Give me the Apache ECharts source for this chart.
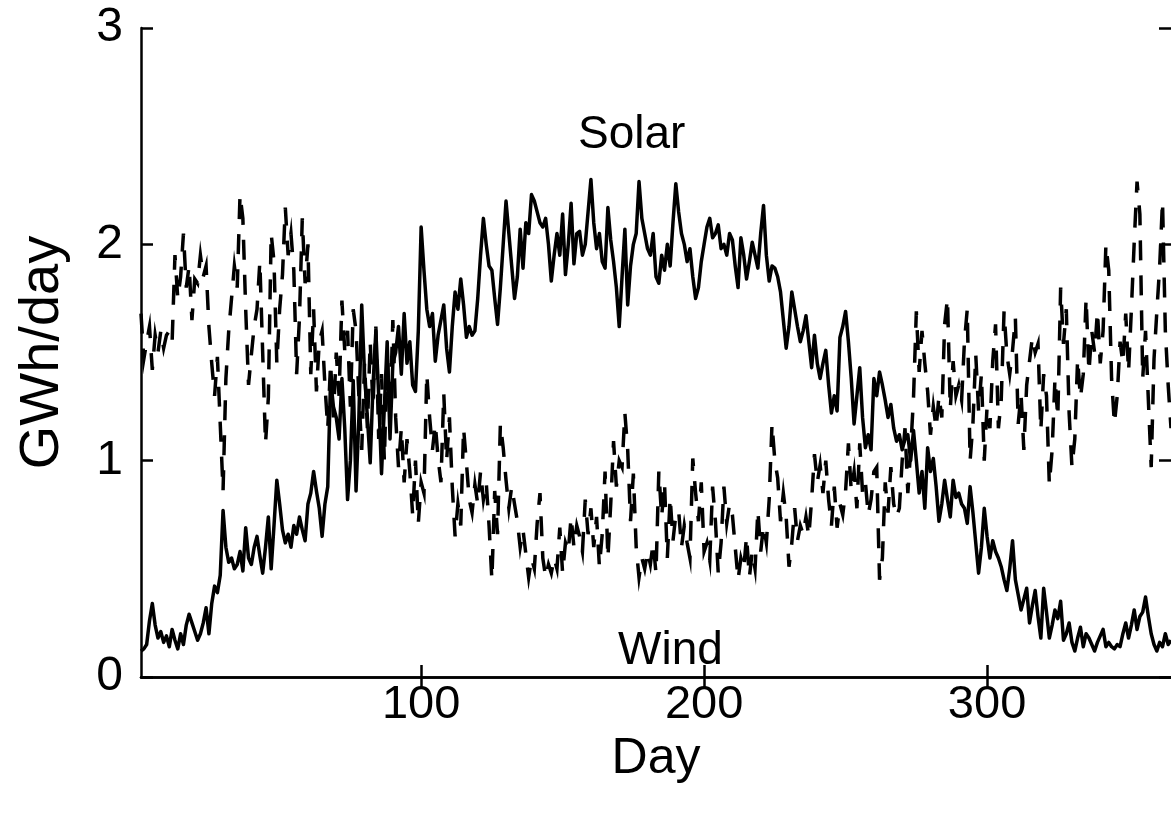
<!DOCTYPE html>
<html>
<head>
<meta charset="utf-8">
<script src="https://cdn.jsdelivr.net/npm/echarts@6/dist/echarts.min.js"></script>
<style>
html,body{margin:0;padding:0;background:#fff;overflow:hidden;}
#chart{width:1171px;height:815px;}
</style>
</head>
<body>
<div id="chart"></div>
<script>
// Daily energy (GWh/day), day 1..365
const solar = [
0.12,0.13,0.15,0.26,0.34,0.24,0.18,0.21,0.16,0.19,
0.14,0.22,0.17,0.13,0.20,0.15,0.24,0.29,0.25,0.21,
0.17,0.20,0.25,0.32,0.20,0.34,0.42,0.39,0.47,0.77,
0.60,0.53,0.55,0.50,0.52,0.58,0.49,0.69,0.55,0.52,
0.60,0.65,0.56,0.48,0.60,0.74,0.50,0.70,0.91,0.80,
0.68,0.62,0.66,0.60,0.70,0.66,0.74,0.68,0.63,0.80,
0.85,0.95,0.86,0.78,0.65,0.80,0.88,1.38,1.25,1.20,
1.10,1.38,1.15,0.82,1.00,1.37,0.86,1.20,1.72,1.40,
1.20,0.99,1.35,1.60,1.30,0.94,1.25,1.55,1.10,1.45,
1.50,1.62,1.40,1.68,1.45,1.55,1.35,1.32,1.60,2.08,
1.88,1.70,1.62,1.68,1.46,1.58,1.65,1.72,1.52,1.41,
1.62,1.78,1.70,1.84,1.72,1.57,1.62,1.58,1.60,1.75,
1.95,2.12,2.00,1.90,1.88,1.75,1.63,1.80,2.00,2.20,
2.05,1.90,1.75,1.85,2.07,1.89,2.10,2.05,2.23,2.20,
2.15,2.10,2.08,2.12,2.00,1.83,1.95,2.05,1.95,2.14,
1.86,2.00,2.19,1.91,2.05,2.06,1.95,2.00,2.15,2.30,
2.10,1.98,2.05,1.92,1.89,2.17,2.02,1.92,1.80,1.62,
1.85,2.07,1.72,1.90,2.00,2.05,2.29,2.12,2.05,1.98,
1.95,2.05,1.85,1.82,1.95,1.88,2.00,1.90,2.10,2.28,
2.15,2.05,2.00,1.92,1.98,1.85,1.75,1.80,1.92,2.00,
2.08,2.12,2.03,2.05,2.09,1.98,2.00,1.95,2.05,2.02,
1.90,1.80,2.03,1.95,1.84,1.92,2.01,1.95,1.89,2.05,
2.18,1.95,1.83,1.90,1.89,1.85,1.78,1.65,1.52,1.62,
1.78,1.70,1.62,1.55,1.60,1.67,1.55,1.43,1.58,1.45,
1.38,1.45,1.51,1.35,1.22,1.30,1.23,1.57,1.62,1.69,
1.55,1.38,1.17,1.30,1.43,1.20,1.06,1.12,1.05,1.38,
1.30,1.41,1.35,1.28,1.20,1.26,1.15,1.09,1.12,1.05,
1.10,1.12,1.00,1.14,1.00,0.85,0.95,0.78,1.06,0.95,
1.01,0.88,0.72,0.80,0.91,0.82,0.74,0.91,0.83,0.85,
0.80,0.78,0.71,0.88,0.76,0.62,0.48,0.60,0.78,0.65,
0.55,0.63,0.58,0.55,0.51,0.45,0.40,0.50,0.63,0.45,
0.38,0.31,0.36,0.41,0.25,0.33,0.40,0.28,0.18,0.41,
0.30,0.18,0.24,0.31,0.27,0.35,0.17,0.20,0.25,0.16,
0.12,0.18,0.23,0.14,0.20,0.18,0.15,0.12,0.16,0.19,
0.22,0.14,0.16,0.14,0.13,0.15,0.14,0.20,0.25,0.18,
0.24,0.31,0.22,0.28,0.30,0.37,0.28,0.20,0.15,0.12,
0.16,0.14,0.20,0.15,0.17
];
const wind = [
1.68,1.47,1.55,1.62,1.42,1.58,1.50,1.60,1.52,1.58,
1.60,1.55,1.95,1.75,1.85,2.05,1.80,1.90,1.65,1.84,
1.82,1.95,1.85,1.90,1.62,1.45,1.30,1.48,1.17,0.86,
1.38,1.60,1.75,1.90,1.80,2.23,2.12,1.70,1.35,1.49,
1.62,1.70,1.92,1.50,1.08,1.29,2.05,1.92,1.45,1.70,
1.86,2.17,1.95,2.05,1.88,1.40,1.66,2.12,1.82,2.00,
1.40,1.70,1.32,1.55,1.60,1.35,1.15,1.45,1.20,1.50,
1.30,1.74,1.51,1.60,1.25,1.70,1.60,1.30,1.05,1.45,
1.15,1.55,1.25,1.62,1.10,1.40,1.00,1.50,1.20,1.65,
1.20,0.97,1.15,0.90,1.10,0.95,0.75,1.00,0.71,0.90,
0.85,1.40,1.20,1.05,1.17,1.01,0.90,1.31,1.00,1.20,
0.88,0.65,0.80,0.70,1.15,0.99,0.82,0.76,0.89,0.80,
0.95,0.82,0.90,0.70,0.45,0.86,0.66,1.17,1.06,0.91,
0.78,0.88,0.80,0.72,0.60,0.68,0.57,0.46,0.55,0.50,
0.71,0.85,0.55,0.46,0.52,0.48,0.55,0.50,0.69,0.48,
0.62,0.58,0.74,0.60,0.70,0.65,0.58,0.82,0.66,0.78,
0.60,0.74,0.51,0.66,0.95,0.55,0.80,1.09,0.88,1.00,
0.97,1.22,1.05,0.72,0.94,0.60,0.46,0.55,0.50,0.58,
0.52,0.62,0.48,0.95,0.74,0.90,0.55,0.83,0.63,0.75,
0.77,0.60,0.70,0.62,0.55,1.01,0.85,0.72,0.90,0.58,
0.62,0.54,0.88,0.72,0.48,0.62,0.88,0.71,0.80,0.75,
0.60,0.45,0.55,0.50,0.65,0.46,0.58,0.50,0.77,0.58,
0.70,0.62,0.82,1.17,1.00,0.92,0.72,0.85,0.74,0.51,
0.62,0.78,0.63,0.70,0.66,0.74,0.65,0.82,1.03,0.90,
0.98,0.85,1.00,0.82,0.70,0.88,0.69,0.80,0.75,0.86,
1.08,0.86,0.95,0.78,1.08,0.85,0.90,0.75,0.82,0.95,
0.97,0.45,0.55,0.90,0.76,0.97,0.80,0.74,0.78,1.00,
1.15,0.85,1.05,1.29,1.69,1.41,1.60,1.45,1.32,1.12,
1.25,1.15,1.30,1.20,1.63,1.75,1.24,1.46,1.30,1.35,
1.28,1.55,1.70,1.00,1.17,1.49,1.23,1.40,1.00,1.25,
1.15,1.46,1.63,1.15,1.28,1.69,1.49,1.40,1.51,1.66,
1.17,1.31,1.05,1.35,1.46,1.57,1.50,1.54,1.14,1.40,
1.30,0.89,1.05,1.38,1.20,1.80,1.54,1.70,1.22,0.97,
1.10,1.47,1.29,1.40,1.75,1.41,1.60,1.50,1.69,1.45,
1.60,2.00,1.88,1.38,1.17,1.30,1.55,1.45,1.68,1.41,
1.70,2.01,2.29,2.14,1.38,1.60,1.28,0.97,1.47,1.69,
1.90,2.20,1.60,1.35,1.15
];
const xTicks = [100, 200, 300];
const yTicks = [0, 1, 2, 3];
const xName = 'Day';
const yName = 'GWh/day';
const labelSolar = 'Solar';
const labelWind = 'Wind';

const FONT = '"Liberation Sans", Arial, sans-serif';
const solarData = solar.map((v, i) => [i + 1, v]);
const windData = wind.map((v, i) => [i + 1, v]);

const chart = echarts.init(document.getElementById('chart'), null, {renderer: 'canvas'});
const axisLine = {show: true, lineStyle: {color: '#000', width: 2.5}};
const tickStyle = {show: true, inside: true, length: 12, lineStyle: {color: '#000', width: 2.5}};

chart.setOption({
  animation: false,
  backgroundColor: '#fff',
  grid: {left: 141, right: -3, top: 28, bottom: 138, containLabel: false},
  xAxis: [
    {
      type: 'value', min: 1, max: 365, position: 'bottom',
      name: xName, nameLocation: 'middle', nameGap: 54,
      nameTextStyle: {fontFamily: FONT, fontSize: 50, color: '#000'},
      axisLine: axisLine,
      axisTick: Object.assign({}, tickStyle, {customValues: xTicks}),
      axisLabel: {customValues: xTicks, fontFamily: FONT, fontSize: 47, color: '#000', margin: 5},
      splitLine: {show: false}
    },
    {
      type: 'value', min: 1, max: 365, position: 'top',
      axisLine: axisLine,
      axisTick: Object.assign({}, tickStyle, {customValues: xTicks}),
      axisLabel: {show: false},
      splitLine: {show: false}
    }
  ],
  yAxis: [
    {
      type: 'value', min: 0, max: 3, interval: 1, position: 'left',
      name: yName, nameLocation: 'middle', nameGap: 70, nameRotate: 90,
      nameTextStyle: {fontFamily: FONT, fontSize: 56, color: '#000'},
      axisLine: axisLine,
      axisTick: tickStyle,
      axisLabel: {fontFamily: FONT, fontSize: 48, color: '#000', margin: 18,
        formatter: v => (yTicks.indexOf(v) >= 0 ? String(v) : '')},
      splitLine: {show: false}
    },
    {
      type: 'value', min: 0, max: 3, interval: 1, position: 'right',
      axisLine: {show: false},
      axisTick: tickStyle,
      axisLabel: {show: false},
      splitLine: {show: false}
    }
  ],
  series: [
    {
      name: labelSolar, type: 'line', data: solarData, xAxisIndex: 0, yAxisIndex: 0,
      showSymbol: false, symbol: 'none',
      lineStyle: {color: '#000', width: 3.5, type: 'solid', join: 'round'}
    },
    {
      name: labelWind, type: 'line', data: windData, xAxisIndex: 0, yAxisIndex: 0,
      showSymbol: false, symbol: 'none',
      lineStyle: {color: '#000', width: 3.5, type: [20, 15], join: 'miter'}
    }
  ],
  graphic: [
    {type: 'text', left: 578, top: 112,
      style: {text: labelSolar, font: '46px "Liberation Sans", Arial, sans-serif', fill: '#000'}},
    {type: 'text', left: 618, top: 628,
      style: {text: labelWind, font: '46px "Liberation Sans", Arial, sans-serif', fill: '#000'}}
  ]
});
</script>
</body>
</html>
